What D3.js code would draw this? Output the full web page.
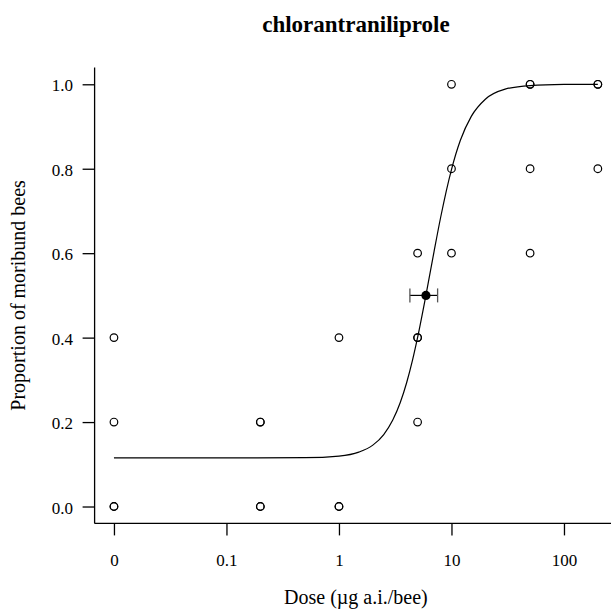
<!DOCTYPE html>
<html>
<head>
<meta charset="utf-8">
<script src="https://cdn.jsdelivr.net/npm/d3@7"></script>
<style>
  html, body { margin: 0; padding: 0; background: #fff; }
  svg { display: block; }
  text { font-family: "Liberation Serif", "Times New Roman", serif; fill: #000; }
</style>
</head>
<body>
<svg id="chart" width="611" height="614"></svg>
<script>
// ---- data ----
const title = "chlorantraniliprole";
const xLabel = "Dose (\u00b5g a.i./bee)";
const yLabel = "Proportion of moribund bees";

// observed proportions (dose 0 is drawn at the 0.01 position); repeats are overplotted
const obsDose = [0, 0, 0, 0, 0.2, 0.2, 0.2, 0.2, 1, 1, 1, 5, 5, 5, 5, 10, 10, 10, 50, 50, 50, 50, 200, 200, 200];
const obsProp = [0, 0, 0.2, 0.4, 0, 0, 0.2, 0.2, 0, 0, 0.4, 0.2, 0.4, 0.4, 0.6, 0.6, 0.8, 1.0, 0.6, 0.8, 1.0, 1.0, 0.8, 1.0, 1.0];

// fitted dose-response curve
const curveDose = [0.01, 0.1, 0.5, 1, 1.5, 2, 2.5, 3, 3.5, 4, 4.5, 5, 6, 7, 8, 10, 12, 15, 20, 30, 50, 100, 200];
const curveProp = [0.115, 0.115, 0.1156, 0.1194, 0.1287, 0.1454, 0.1705, 0.2042, 0.2457, 0.2938, 0.346, 0.4004, 0.5076, 0.6037, 0.6839, 0.798, 0.8673, 0.9241, 0.9647, 0.9885, 0.997, 0.9996, 1.0];

// ED50 estimate with interval
const edDose = [5.93];
const edLower = [4.27];
const edUpper = [7.53];
const edProp = [0.5];

// axis ticks
const xTickVals = [0.01, 0.1, 1, 10, 100];
const xTickLabels = ["0", "0.1", "1", "10", "100"];
const yTickVals = [0, 0.2, 0.4, 0.6, 0.8, 1.0];
const yTickLabels = ["0.0", "0.2", "0.4", "0.6", "0.8", "1.0"];

// ---- layout ----
const svg = d3.select("#chart");
const plot = { left: 94.6, right: 617.2, top: 67.4, bottom: 523.4 };
const zeroPos = 0.01;
const fontFam = '"Liberation Serif", "Times New Roman", serif';

// R-style 4% extension of the data range
const lo = Math.log10(0.01), hi = Math.log10(200), pad = (hi - lo) * 0.04;
const x = d3.scaleLog().domain([Math.pow(10, lo - pad), Math.pow(10, hi + pad)]).range([plot.left, plot.right]);
const y = d3.scaleLinear().domain([-0.04, 1.04]).range([plot.bottom, plot.top]);
const xd = d => x(d === 0 ? zeroPos : d);

// axes lines (bty = "l")
svg.append("line").attr("x1", plot.left).attr("x2", plot.left).attr("y1", plot.top).attr("y2", plot.bottom)
  .attr("stroke", "#000").attr("stroke-width", 1.3);
svg.append("line").attr("x1", plot.left).attr("x2", plot.right).attr("y1", plot.bottom).attr("y2", plot.bottom)
  .attr("stroke", "#000").attr("stroke-width", 1.3);

// x axis
const xAxis = d3.axisBottom(x).tickValues(xTickVals).tickSize(12).tickPadding(0)
  .tickFormat((d, i) => xTickLabels[i]);
const gx = svg.append("g").attr("transform", `translate(0,${plot.bottom})`).call(xAxis);
gx.select(".domain").remove();
gx.selectAll(".tick line").attr("stroke", "#000").attr("stroke-width", 1.3);
gx.selectAll(".tick text").attr("y", 43).attr("dy", null)
  .style("font-family", fontFam).style("font-size", "17px").attr("fill", "#000");

// y axis
const yAxis = d3.axisLeft(y).tickValues(yTickVals).tickSize(12).tickPadding(0)
  .tickFormat((d, i) => yTickLabels[i]);
const gy = svg.append("g").attr("transform", `translate(${plot.left},0)`).call(yAxis);
gy.select(".domain").remove();
gy.selectAll(".tick line").attr("stroke", "#000").attr("stroke-width", 1.3);
gy.selectAll(".tick text").attr("x", -21.5).attr("dy", "6.5px").attr("text-anchor", "end")
  .style("font-family", fontFam).style("font-size", "17px").attr("fill", "#000");

// fitted curve
const curvePts = curveDose.map((d, i) => [d, curveProp[i]]);
svg.append("path").datum(curvePts)
  .attr("d", d3.line().x(d => x(d[0])).y(d => y(d[1])).curve(d3.curveMonotoneX))
  .attr("fill", "none").attr("stroke", "#000").attr("stroke-width", 1.2);

// observed points
const obs = obsDose.map((d, i) => [d, obsProp[i]]);
svg.append("g").selectAll("circle").data(obs).join("circle")
  .attr("cx", d => xd(d[0])).attr("cy", d => y(d[1])).attr("r", 3.8)
  .attr("fill", "none").attr("stroke", "#000").attr("stroke-width", 1.2);

// ED50 with interval
const gEd = svg.append("g");
edDose.forEach((d, i) => {
  const yy = y(edProp[i]);
  gEd.append("line").attr("x1", x(edLower[i])).attr("x2", x(edUpper[i])).attr("y1", yy).attr("y2", yy)
    .attr("stroke", "#000").attr("stroke-width", 1.2);
  [edLower[i], edUpper[i]].forEach(v => {
    gEd.append("line").attr("x1", x(v)).attr("x2", x(v)).attr("y1", yy - 7).attr("y2", yy + 7)
      .attr("stroke", "#555").attr("stroke-width", 1.3);
  });
  gEd.append("circle").attr("cx", x(d)).attr("cy", yy).attr("r", 4.6).attr("fill", "#000");
});

// titles
const cx = (plot.left + plot.right) / 2;
svg.append("text").attr("x", cx).attr("y", 31.7).attr("text-anchor", "middle")
  .style("font-size", "23px").style("font-weight", "bold").text(title);
svg.append("text").attr("x", cx).attr("y", 604).attr("text-anchor", "middle")
  .style("font-size", "20px").text(xLabel);
svg.append("text").attr("transform", `translate(24.5,${(plot.top + plot.bottom) / 2}) rotate(-90)`)
  .attr("text-anchor", "middle").style("font-size", "20px").text(yLabel);
</script>
</body>
</html>
